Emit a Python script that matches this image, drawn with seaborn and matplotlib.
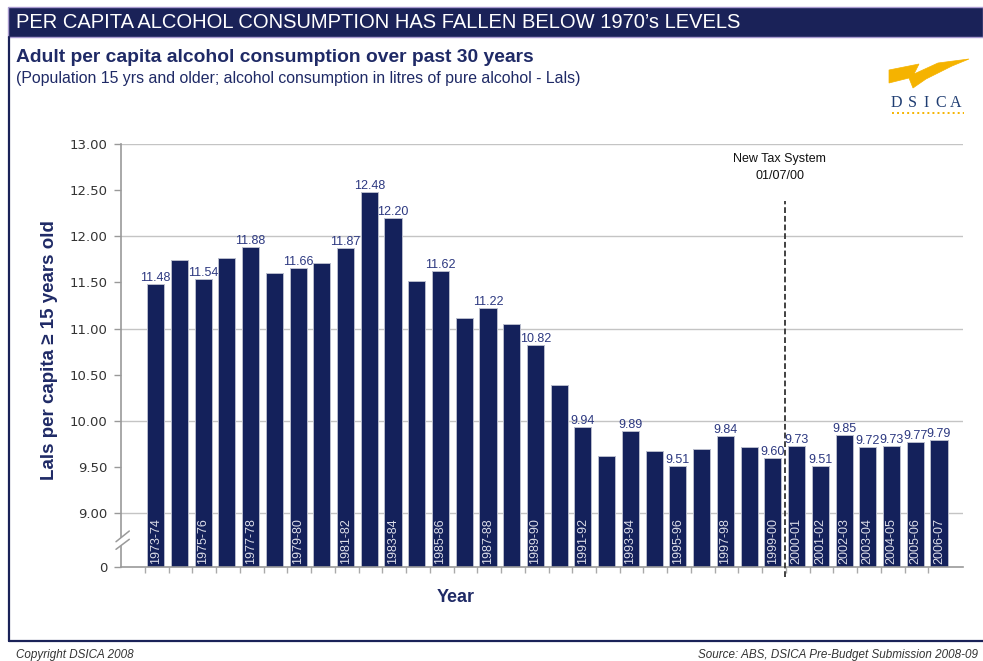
import numpy as np
import pandas as pd
import matplotlib
matplotlib.use("Agg")
import matplotlib.pyplot as plt
import seaborn as sns
from matplotlib.patches import Rectangle, Polygon
from matplotlib.lines import Line2D

# ---- data -------------------------------------------------------------
years = [
    "1973-74", "1974-75", "1975-76", "1976-77", "1977-78", "1978-79",
    "1979-80", "1980-81", "1981-82", "1982-83", "1983-84", "1984-85",
    "1985-86", "1986-87", "1987-88", "1988-89", "1989-90", "1990-91",
    "1991-92", "1992-93", "1993-94", "1994-95", "1995-96", "1996-97",
    "1997-98", "1998-99", "1999-00", "2000-01", "2001-02", "2002-03",
    "2003-04", "2004-05", "2005-06", "2006-07",
]
lals = [
    11.48, 11.74, 11.54, 11.76, 11.88, 11.60,
    11.66, 11.71, 11.87, 12.48, 12.20, 11.52,
    11.62, 11.12, 11.22, 11.05, 10.82, 10.39,
    9.94, 9.62, 9.89, 9.68, 9.51, 9.70,
    9.84, 9.72, 9.60, 9.73, 9.51, 9.85,
    9.72, 9.73, 9.77, 9.79,
]
# years whose value is printed above the bar
value_label_years = [
    "1973-74", "1975-76", "1977-78", "1979-80", "1981-82", "1982-83",
    "1983-84", "1985-86", "1987-88", "1989-90", "1991-92", "1993-94",
    "1995-96", "1997-98", "1999-00", "2000-01", "2001-02", "2002-03",
    "2003-04", "2004-05", "2005-06", "2006-07",
]
# years whose name is written inside the bar
year_label_years = [
    "1973-74", "1975-76", "1977-78", "1979-80", "1981-82", "1983-84",
    "1985-86", "1987-88", "1989-90", "1991-92", "1993-94", "1995-96",
    "1997-98", "1999-00", "2000-01", "2001-02", "2002-03", "2003-04",
    "2004-05", "2005-06", "2006-07",
]
y_ticks = [0, 9.0, 9.5, 10.0, 10.5, 11.0, 11.5, 12.0, 12.5, 13.0]
grid_levels = [9.0, 10.0, 11.0, 12.0, 13.0]
tax_change_between = ("1999-00", "2000-01")

df = pd.DataFrame({"year": years, "lals": lals})

# ---- style ------------------------------------------------------------
sns.set_style("white")
plt.rcParams["font.family"] = ["Liberation Sans", "DejaVu Sans"]

NAVY = "#1a2258"
BAR = "#14215b"
TEXT_NAVY = "#1f2a66"
VALUE_BLUE = "#2c3880"
GOLD = "#f5b300"

W, H = 983, 661
fig = plt.figure(figsize=(W / 100, H / 100), dpi=100)


def fx(x):
    return x / W


def fy(y):
    return 1 - y / H


# ---- axes with a broken value axis ------------------------------------
ax_left, ax_right, ax_top, ax_bottom = 121, 963, 144, 566.7
ax = fig.add_axes([fx(ax_left), fy(ax_bottom), (ax_right - ax_left) / W,
                   (ax_bottom - ax_top) / H])

BREAK_AT = 9.0
SQUEEZE = 0.578 / BREAK_AT   # the 0 - 9 span is compressed into a short stub


def forward(v):
    v = np.asarray(v, dtype=float)
    return np.where(v >= BREAK_AT, v, BREAK_AT - (BREAK_AT - v) * SQUEEZE)


def inverse(y):
    y = np.asarray(y, dtype=float)
    return np.where(y >= BREAK_AT, y, BREAK_AT - (BREAK_AT - y) / SQUEEZE)


ax.set_yscale("function", functions=(forward, inverse))

for lvl in grid_levels:
    ax.axhline(lvl, color="#c4c4c4", lw=1.0, zorder=0)

sns.barplot(data=df, x="year", y="lals", order=years, color=BAR,
            width=0.72, edgecolor="#b8bccc", linewidth=0.7,
            saturation=1, ax=ax, zorder=2)

ax.set_ylim(0, 13)
ax.set_xlim(-1.46, 34.01)
ax.set_xlabel("")
ax.set_ylabel("")

ax.set_yticks(y_ticks)
ax.set_yticklabels(["0" if t == 0 else f"{t:.2f}" for t in y_ticks],
                   fontfamily="DejaVu Sans", fontsize=9.5, color="#333333")
ax.set_xticks([i - 0.45 for i in range(len(years))])
ax.set_xticklabels([])
ax.tick_params(axis="y", length=5, width=1, color="#999999", pad=5, left=True)
ax.tick_params(axis="x", length=4, width=1, color="#aaaaaa", bottom=True)
for side in ("top", "right"):
    ax.spines[side].set_visible(False)
for side in ("left", "bottom"):
    ax.spines[side].set_color("#9a9a9a")
    ax.spines[side].set_linewidth(1.2)

# value labels and year labels
for i, (yr, v) in enumerate(zip(years, lals)):
    if yr in value_label_years:
        ax.annotate(f"{v:.2f}", xy=(i, v), xytext=(0, 3),
                    textcoords="offset pixels", ha="center", va="baseline",
                    fontsize=9, color=VALUE_BLUE, zorder=4)
    if yr in year_label_years:
        ax.annotate(yr, xy=(i, 0), xytext=(0, 3), textcoords="offset pixels",
                    ha="center", va="bottom", rotation=90, fontsize=9,
                    color="#dcdde8", zorder=4)

# policy change marker
x_tax = (years.index(tax_change_between[0]) + years.index(tax_change_between[1])) / 2
ax.axvline(x_tax, ymin=-0.024, ymax=0.866, clip_on=False, color="#333333",
           lw=1.3, ls=(0, (3.2, 1.6)), zorder=3)
ax.annotate("New Tax System", xy=(x_tax - 0.22, 0.9645),
            xycoords=("data", "axes fraction"), ha="center", va="center",
            fontsize=9, color="#111111")
ax.annotate("01/07/00", xy=(x_tax - 0.22, 0.924),
            xycoords=("data", "axes fraction"), ha="center", va="center",
            fontsize=9, color="#111111")

# axis break slashes
fig.patches.append(Polygon([(fx(116), fy(541.7)), (fx(129.3), fy(531)),
                            (fx(129.3), fy(539.3)), (fx(116), fy(549.3))],
                           closed=True, transform=fig.transFigure,
                           facecolor="white", edgecolor="none", zorder=5))
for y0, y1 in ((541.7, 531.0), (549.3, 539.3)):
    fig.lines.append(Line2D([fx(116), fx(129.3)], [fy(y0), fy(y1)],
                            transform=fig.transFigure, color="#9a9a9a",
                            lw=1.1, zorder=6))

# axis titles
fig.text(fx(50), fy(350), "Lals per capita \u2265 15 years old", rotation=90,
         ha="center", va="center", fontsize=13.5, fontweight="bold",
         color=TEXT_NAVY)
fig.text(fx(456), fy(597), "Year", ha="center", va="center", fontsize=13,
         fontweight="bold", color=TEXT_NAVY)

# ---- page furniture ---------------------------------------------------
fig.patches.append(Rectangle((fx(8), fy(37)), fx(W - 8), 30 / H,
                             transform=fig.transFigure, facecolor=NAVY,
                             edgecolor="#a99bd0", lw=1.0, zorder=1))
fig.lines.append(Line2D([fx(9), fx(9)], [fy(37), fy(641)],
                        transform=fig.transFigure, color=NAVY, lw=1.6))
fig.lines.append(Line2D([fx(9), fx(W)], [fy(641), fy(641)],
                        transform=fig.transFigure, color=NAVY, lw=1.6))

renderer = fig.canvas.get_renderer()


def fit_width(txt, target_px):
    w = txt.get_window_extent(renderer=renderer).width
    txt.set_fontsize(txt.get_fontsize() * target_px / w)


t = fig.text(fx(16), fy(22), "PER CAPITA ALCOHOL CONSUMPTION HAS FALLEN BELOW 1970\u2019s LEVELS",
             ha="left", va="center", fontsize=13, color="white", zorder=3)
fit_width(t, 724)
t = fig.text(fx(16), fy(57), "Adult per capita alcohol consumption over past 30 years",
             ha="left", va="center", fontsize=12, fontweight="bold",
             color=TEXT_NAVY)
fit_width(t, 516)
t = fig.text(fx(16), fy(78),
             "(Population 15 yrs and older; alcohol consumption in litres of pure alcohol - Lals)",
             ha="left", va="center", fontsize=10, color=TEXT_NAVY)
fit_width(t, 567)
t = fig.text(fx(16), fy(655), "Copyright DSICA 2008", ha="left", va="center",
             fontsize=7, style="italic", color="#333333")
fit_width(t, 117)
t = fig.text(fx(978), fy(655), "Source: ABS, DSICA Pre-Budget Submission 2008-09",
             ha="right", va="center", fontsize=7, style="italic",
             color="#333333")
fit_width(t, 278)

# DSICA logo
swoosh = [(889, 70), (919, 64), (914, 74), (938, 63), (969, 59), (952, 66),
          (926, 79), (913, 88), (909, 78), (889, 83)]
fig.patches.append(Polygon([(fx(x), fy(y)) for x, y in swoosh], closed=True,
                           transform=fig.transFigure, facecolor=GOLD,
                           edgecolor=GOLD, lw=0.5))
for ch, xc in zip("DSICA", (896.5, 912, 926, 940.5, 956)):
    fig.text(fx(xc), fy(103), ch, ha="center", va="center", fontsize=11.5,
             family="Liberation Serif", color="#1f3d72")
fig.lines.append(Line2D([fx(892), fx(964)], [fy(112.5), fy(112.5)],
                        transform=fig.transFigure, color=GOLD, lw=1.4,
                        ls=(0, (1, 1.6))))

fig.savefig("out.png", dpi=100)
